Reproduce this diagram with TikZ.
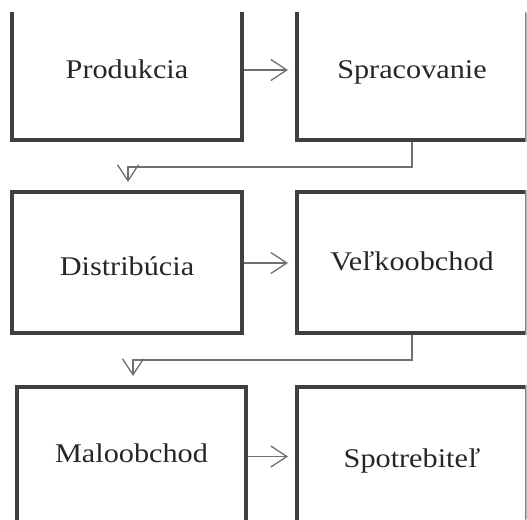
\documentclass[tikz,border=0pt]{standalone}
\usepackage{fontspec}
\setmainfont{Liberation Serif}[FakeStretch=1.12]
\usetikzlibrary{arrows.meta}

\definecolor{farbaRamu}{HTML}{404040}
\definecolor{farbaSipky}{HTML}{707070}
\definecolor{farbaOkraja}{HTML}{B8B8B8}
\definecolor{farbaTextu}{HTML}{262626}

\tikzset{
  blok/.style={draw=farbaRamu, line width=4pt, minimum width=230pt, minimum height=140pt,
    inner sep=0pt, text height=16pt, text depth=0pt, text=farbaTextu,
    font=\fontsize{27}{32}\selectfont},
  sipka/.style={draw=farbaSipky, line width=1.3pt, -{Straight Barb[length=16pt,width=21pt]}},
  okraj/.style={draw=farbaOkraja, line width=1pt},
}

\begin{document}
\begin{tikzpicture}[x=1pt, y=-1pt]
    \useasboundingbox (0,0) rectangle (527,519);
    \coordinate (rim) at (526,0);
    \begin{scope}
    \clip (0,13) rectangle (525.5,519);

    % Bloky
    \node[blok] (produkcia) at (127,70) {Produkcia};
    \node[blok] (spracovanie) at (412,70) {Spracovanie};
    \node[blok, minimum height=141pt, text height=25pt] (distribucia) at (127,262.5) {Distribúcia};
    \node[blok, minimum height=141pt, text height=15pt] (velkoobchod) at (412,262.5) {Veľkoobchod};
    \node[blok, minimum width=229pt, text height=12pt] (maloobchod) at (131.5,456.5) {Maloobchod};
    \node[blok, text height=21pt] (spotrebitel) at (412,456.5) {Spotrebiteľ};
    \end{scope}

    % Pravý okraj (orezaný)
    \draw[okraj] (rim |- 0,13) -- (rim |- spracovanie.south);
    \draw[okraj] (rim |- velkoobchod.north) -- (rim |- velkoobchod.south);
    \draw[okraj] (rim |- spotrebitel.north) -- (rim |- 0,519);

    % Šípky v riadkoch
    \draw[sipka, shorten >=7pt] (produkcia) -- (spracovanie);
    \draw[sipka, shorten >=7pt] (distribucia.east |- 0,263) -- (velkoobchod.west |- 0,263);
    \draw[sipka, shorten >=7pt] (maloobchod) -- (spotrebitel);

    % Prechod do ďalšieho riadku
    \coordinate (ohyb1) at (128,167);
    \coordinate (ohyb2) at (133,360);
    \draw[sipka, shorten >=8pt] (spracovanie.south) |- (ohyb1) -- (ohyb1 |- distribucia.north);
    \draw[sipka, shorten >=8.5pt] (velkoobchod.south) |- (ohyb2) -- (ohyb2 |- maloobchod.north);
\end{tikzpicture}
\end{document}
